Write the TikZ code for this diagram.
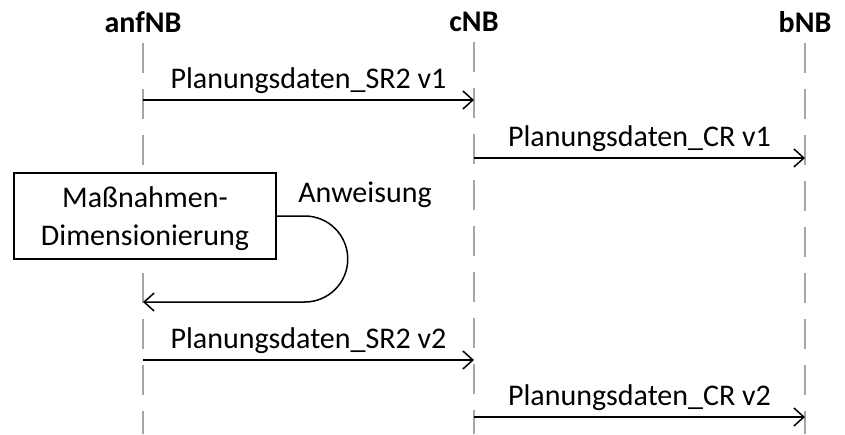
\documentclass[tikz,border=0pt]{standalone}
\usepackage{fontspec}
\setmainfont{Carlito}
\usetikzlibrary{positioning, arrows.meta}
\definecolor{lifegray}{HTML}{A6A6A6}

\begin{document}
\begin{tikzpicture}[
    x=1pt, y=1pt,
    font=\fontsize{30}{38}\selectfont,
    head/.style={font=\fontsize{30}{38}\selectfont\bfseries, inner sep=10pt},
    lifeline/.style={draw=lifegray, line width=1.5pt, dash pattern=on 30pt off 16pt},
    msg/.style={draw, line width=1.5pt, -{Straight Barb[length=10pt,width=18pt]}},
    label/.style={above=4pt, inner sep=2pt},
    activity/.style={draw, line width=1.5pt, fill=white, align=center, minimum width=262pt, minimum height=86pt, inner sep=0pt}
]
    \useasboundingbox (0,0) rectangle (845,-434);

    % participants and their lifelines
    \node[head] (anf) at (143,-22) {anfNB};
    \node[head] (c) at (474,-22) {cNB};
    \node[head] (b) at (805,-22) {bNB};

    \coordinate (anfEnd) at (143,-434);
    \coordinate (cEnd) at (474,-434);
    \coordinate (bEnd) at (805,-434);

    \draw[lifeline] (anf.south) -- (anfEnd);
    \draw[lifeline] (c.south) -- (cEnd);
    \draw[lifeline] (b.south) -- (bEnd);

    % message points
    \coordinate (anf1) at (143,-100);
    \coordinate (c1) at (474,-100);
    \coordinate (c2) at (474,-158);
    \coordinate (b2) at (805,-158);
    \coordinate (anf3) at (143,-302);
    \coordinate (anf4) at (143,-360);
    \coordinate (c4) at (474,-360);
    \coordinate (c5) at (474,-417);
    \coordinate (b5) at (805,-417);

    \path
        (anf1) edge[msg] node[label] {Planungsdaten\_SR2 v1} (c1)
        (c2) edge[msg] node[label] {Planungsdaten\_CR v1} (b2)
        (anf4) edge[msg] node[label] {Planungsdaten\_SR2 v2} (c4)
        (c5) edge[msg] node[label] {Planungsdaten\_CR v2} (b5);

    % self message
    \node[activity] (mass) at (145,-216) {\rule{0pt}{26pt}Maßnahmen-\\Dimensionierung};
    \node (anw) at (365,-195) {Anweisung};
    \draw[msg] (mass.east) -- ++(28,0) arc[start angle=90, end angle=-90, radius=43pt] -- (anf3);
\end{tikzpicture}
\end{document}
